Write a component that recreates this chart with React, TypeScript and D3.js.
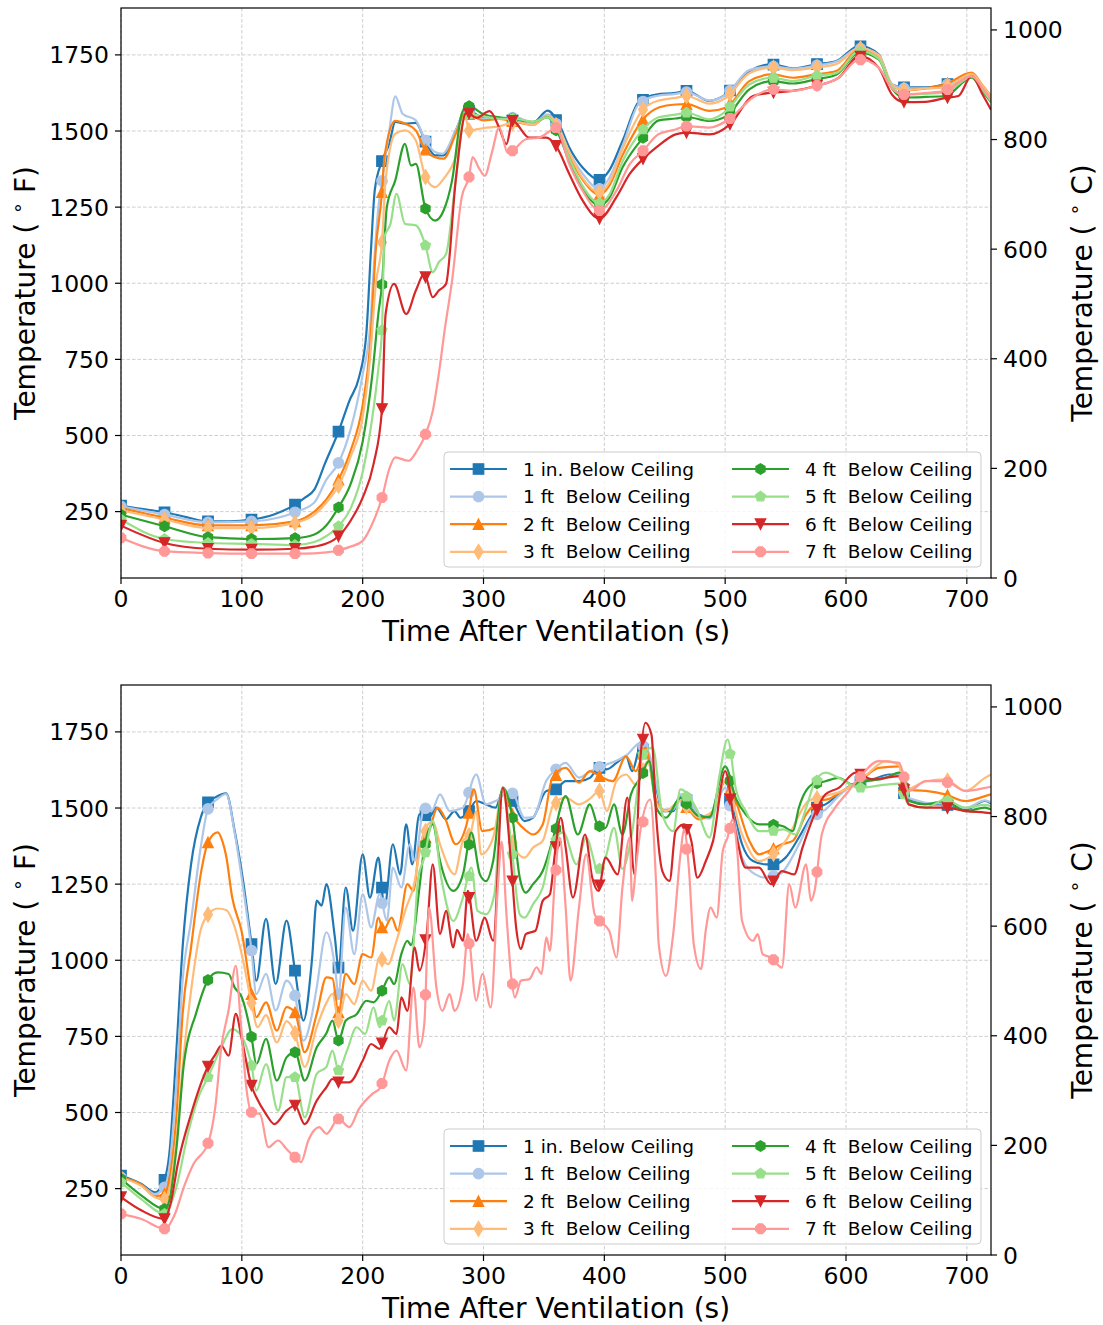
import React from "react";
import * as d3 from "d3";

type Pt = [number, number];

// ---------- labels / styles ----------
const SERIES_LABELS = [
  "1 in. Below Ceiling",
  "1 ft  Below Ceiling",
  "2 ft  Below Ceiling",
  "3 ft  Below Ceiling",
  "4 ft  Below Ceiling",
  "5 ft  Below Ceiling",
  "6 ft  Below Ceiling",
  "7 ft  Below Ceiling",
];
const SERIES_COLORS = ["#1f77b4", "#aec7e8", "#ff7f0e", "#ffbb78", "#2ca02c", "#98df8a", "#d62728", "#ff9896"];
const SERIES_MARKERS = ["s", "o", "^", "d", "h", "p", "v", "8"];
const X_TICKS = [0, 100, 200, 300, 400, 500, 600, 700];
const F_TICKS = [250, 500, 750, 1000, 1250, 1500, 1750];
const C_TICKS = [0, 200, 400, 600, 800, 1000];
const MARKER_TIMES = [0, 36, 72, 108, 144, 180, 216, 252, 288, 324, 360, 396, 432, 468, 504, 540, 576, 612, 648, 684];

// ---------- top panel data (°F) ----------
const top1in: Pt[] = [[0,270],[12,262],[24,255],[36,248],[54,232],[72,218],[90,218],[108,224],[126,240],[144,273],[152,295],[160,322],[169,410],[180,513],[189,614],[197,691],[203,833],[207,1118],[210,1305],[216,1401],[222,1458],[227,1530],[235,1524],[244,1527],[252,1465],[260,1420],[267,1420],[277,1502],[286,1571],[300,1543],[313,1543],[327,1533],[341,1527],[353,1567],[362,1527],[371,1446],[382,1380],[396,1340],[404,1370],[415,1467],[429,1598],[443,1620],[459,1625],[468,1632],[487,1599],[501,1621],[520,1697],[539,1719],[556,1706],[575,1719],[592,1730],[611,1780],[627,1752],[638,1653],[648,1643],[666,1643],[682,1653],[693,1659],[704,1686],[713,1643],[720,1610]];
const top1ft: Pt[] = [[0,267],[36,240],[72,215],[108,218],[144,248],[160,280],[170,355],[180,410],[190,520],[200,700],[206,850],[210,1100],[213,1250],[216,1336],[222,1500],[227,1614],[233,1557],[244,1535],[252,1469],[260,1431],[266,1425],[277,1502],[285,1568],[300,1540],[313,1540],[327,1545],[341,1525],[353,1555],[362,1515],[371,1430],[382,1360],[396,1310],[404,1345],[415,1450],[429,1592],[443,1615],[459,1622],[468,1628],[487,1600],[501,1620],[520,1700],[539,1712],[556,1705],[575,1715],[592,1728],[611,1772],[627,1750],[638,1655],[648,1640],[666,1640],[682,1650],[704,1684],[713,1645],[720,1612]];
const top2ft: Pt[] = [[0,262],[36,230],[72,205],[108,205],[144,218],[160,250],[170,290],[180,355],[190,450],[200,600],[206,789],[211,1118],[216,1299],[218,1414],[227,1533],[235,1524],[244,1502],[251,1442],[260,1414],[267,1409],[277,1491],[285,1560],[300,1535],[313,1540],[327,1530],[341,1520],[353,1550],[362,1505],[371,1420],[382,1340],[396,1290],[404,1320],[415,1420],[432,1538],[445,1577],[459,1587],[468,1588],[487,1566],[501,1577],[520,1664],[539,1686],[556,1675],[575,1686],[592,1697],[611,1768],[627,1745],[638,1650],[648,1634],[666,1640],[682,1653],[704,1692],[713,1650],[720,1615]];
const top3ft: Pt[] = [[0,254],[36,224],[72,196],[108,196],[144,213],[160,240],[170,280],[180,335],[190,430],[200,560],[206,750],[211,1000],[216,1135],[219,1338],[227,1491],[235,1502],[244,1469],[252,1349],[260,1316],[267,1343],[277,1414],[285,1546],[288,1502],[300,1510],[313,1515],[327,1530],[341,1520],[353,1550],[362,1510],[371,1430],[382,1345],[396,1299],[404,1330],[415,1440],[432,1571],[445,1600],[459,1609],[468,1615],[487,1590],[501,1610],[520,1690],[539,1708],[556,1700],[575,1708],[592,1720],[611,1772],[627,1748],[638,1652],[648,1634],[666,1640],[682,1643],[704,1688],[713,1648],[720,1612]];
const top4ft: Pt[] = [[0,240],[36,202],[72,166],[108,160],[144,163],[160,175],[170,205],[180,264],[190,340],[200,480],[208,700],[213,900],[216,996],[220,1250],[227,1338],[235,1458],[240,1387],[244,1392],[252,1245],[260,1206],[267,1239],[274,1338],[282,1557],[287,1584],[300,1555],[313,1545],[327,1540],[341,1530],[353,1545],[362,1490],[371,1400],[382,1310],[396,1255],[404,1280],[415,1380],[432,1478],[445,1535],[459,1541],[468,1546],[487,1533],[501,1549],[520,1637],[539,1664],[556,1656],[575,1670],[592,1685],[611,1758],[627,1735],[638,1640],[648,1610],[666,1612],[682,1615],[704,1675],[713,1630],[720,1595]];
const top5ft: Pt[] = [[0,224],[36,160],[72,147],[108,144],[144,140],[160,150],[170,170],[180,202],[190,260],[200,380],[208,560],[213,720],[216,846],[218,1151],[223,1195],[228,1294],[235,1195],[244,1190],[252,1124],[258,1036],[263,1069],[269,1096],[277,1338],[285,1557],[300,1548],[313,1540],[327,1540],[341,1530],[353,1545],[362,1500],[371,1410],[382,1320],[396,1263],[404,1290],[415,1400],[432,1505],[445,1545],[459,1554],[468,1560],[487,1538],[501,1566],[520,1653],[539,1675],[556,1664],[575,1681],[592,1690],[611,1763],[627,1738],[638,1645],[648,1620],[666,1622],[682,1626],[704,1678],[713,1635],[720,1598]];
const top6ft: Pt[] = [[0,204],[36,147],[72,128],[108,125],[144,128],[160,135],[170,145],[180,169],[190,220],[200,296],[209,406],[216,587],[219,899],[226,998],[236,899],[244,976],[251,1031],[258,954],[263,976],[269,998],[277,1338],[285,1557],[287,1560],[294,1543],[305,1565],[313,1511],[319,1457],[324,1533],[338,1478],[352,1478],[360,1451],[371,1359],[382,1272],[396,1212],[410,1283],[421,1359],[432,1408],[443,1446],[459,1489],[468,1495],[487,1489],[504,1522],[523,1615],[539,1626],[556,1632],[575,1648],[594,1675],[611,1747],[627,1708],[638,1620],[648,1595],[666,1596],[682,1608],[693,1615],[704,1681],[713,1620],[720,1570]];
const top7ft: Pt[] = [[0,164],[36,120],[72,114],[108,112],[144,112],[160,113],[170,116],[180,123],[190,135],[200,154],[208,210],[216,296],[222,390],[227,428],[238,417],[245,450],[252,504],[258,580],[263,702],[268,850],[274,1009],[282,1283],[288,1349],[291,1414],[296,1380],[301,1353],[307,1430],[313,1511],[320,1429],[324,1435],[335,1473],[346,1478],[355,1500],[360,1511],[371,1391],[382,1304],[396,1239],[410,1304],[421,1391],[432,1435],[445,1490],[459,1505],[468,1516],[487,1511],[504,1541],[523,1610],[539,1637],[556,1632],[575,1648],[594,1675],[611,1736],[627,1708],[638,1640],[648,1620],[666,1625],[682,1632],[704,1680],[713,1640],[720,1605]];

// ---------- bottom panel data (°F) ----------
const bot1in: Pt[] = [[0,293],[17,265],[28,238],[36,279],[40,364],[46,714],[51,1043],[58,1316],[66,1469],[72,1519],[78,1535],[87,1548],[94,1426],[101,1261],[108,1053],[112,933],[120,1136],[128,922],[137,1130],[144,966],[151,802],[158,1000],[162,1196],[166,1179],[170,1250],[177,1075],[180,976],[186,1239],[192,1097],[200,1348],[206,1206],[213,1337],[218,1173],[225,1381],[231,1282],[236,1446],[241,1315],[247,1479],[251,1479],[255,1470],[261,1501],[269,1463],[276,1490],[281,1468],[288,1490],[294,1523],[302,1512],[310,1501],[316,1556],[324,1523],[334,1457],[341,1468],[352,1556],[360,1561],[368,1588],[379,1588],[388,1599],[396,1632],[402,1627],[410,1648],[418,1670],[423,1621],[430,1703],[437,1665],[443,1566],[448,1490],[457,1490],[463,1534],[470,1523],[478,1479],[487,1470],[500,1588],[508,1470],[514,1381],[523,1326],[534,1315],[540,1315],[550,1337],[561,1403],[572,1479],[576,1501],[583,1512],[594,1545],[608,1583],[622,1594],[636,1610],[644,1610],[649,1534],[658,1523],[671,1512],[682,1512],[699,1495],[715,1523],[720,1515]];
const bot1ft: Pt[] = [[0,287],[17,262],[28,232],[36,254],[40,320],[46,604],[51,933],[58,1130],[66,1371],[72,1497],[80,1530],[87,1546],[94,1420],[101,1240],[108,1032],[112,889],[120,955],[128,835],[137,933],[144,884],[151,736],[158,820],[162,911],[170,1092],[177,980],[180,889],[186,1173],[193,1020],[200,1217],[207,1108],[214,1217],[220,1130],[225,1304],[232,1239],[239,1381],[243,1326],[251,1501],[257,1490],[264,1545],[272,1490],[283,1501],[294,1610],[302,1512],[310,1523],[323,1556],[334,1468],[341,1470],[352,1590],[360,1627],[368,1648],[379,1600],[388,1620],[396,1635],[410,1655],[418,1672],[430,1714],[437,1680],[443,1580],[448,1495],[457,1495],[463,1545],[470,1530],[478,1475],[487,1465],[500,1566],[508,1450],[514,1337],[525,1282],[534,1271],[545,1282],[561,1380],[572,1470],[583,1495],[594,1540],[608,1580],[622,1590],[636,1605],[644,1608],[649,1540],[658,1525],[671,1515],[682,1515],[699,1500],[715,1525],[720,1518]];
const bot2ft: Pt[] = [[0,287],[17,262],[28,225],[36,233],[40,280],[46,495],[51,824],[58,1043],[66,1283],[72,1387],[80,1420],[84,1390],[87,1343],[92,1207],[100,1092],[108,889],[112,813],[120,862],[129,769],[137,846],[144,829],[152,698],[162,824],[170,944],[175,940],[180,829],[186,955],[193,922],[200,1020],[207,1009],[213,1140],[217,1097],[224,1140],[229,1097],[237,1250],[242,1228],[247,1370],[255,1424],[262,1501],[268,1468],[277,1381],[286,1446],[292,1561],[299,1424],[310,1435],[316,1561],[324,1479],[334,1430],[341,1413],[349,1446],[357,1599],[368,1632],[379,1583],[388,1621],[396,1605],[407,1588],[418,1670],[426,1621],[434,1698],[443,1523],[451,1490],[463,1523],[478,1463],[490,1490],[500,1588],[508,1530],[520,1392],[528,1348],[536,1359],[547,1381],[556,1392],[567,1479],[578,1523],[586,1530],[597,1556],[611,1588],[627,1632],[644,1637],[649,1560],[666,1556],[682,1545],[699,1523],[715,1539],[720,1545]];
const bot3ft: Pt[] = [[0,285],[17,258],[28,222],[36,215],[40,250],[46,420],[51,650],[58,900],[66,1100],[72,1150],[80,1170],[87,1165],[94,1110],[101,1000],[108,860],[113,780],[120,820],[129,730],[137,800],[144,760],[152,650],[162,780],[170,860],[175,890],[180,802],[186,889],[193,856],[200,933],[207,900],[214,1009],[221,987],[228,1064],[236,1173],[242,1239],[250,1413],[258,1457],[264,1381],[276,1282],[283,1392],[289,1413],[294,1490],[298,1348],[308,1403],[316,1556],[323,1392],[334,1337],[341,1370],[349,1392],[358,1512],[368,1534],[379,1512],[388,1530],[396,1556],[402,1490],[410,1588],[418,1610],[426,1577],[436,1654],[443,1515],[451,1490],[463,1523],[478,1470],[490,1490],[500,1590],[514,1413],[528,1326],[538,1342],[550,1392],[569,1523],[583,1540],[597,1556],[617,1610],[633,1654],[644,1640],[649,1560],[666,1588],[682,1594],[699,1556],[715,1599],[720,1610]];
const bot4ft: Pt[] = [[0,282],[17,227],[36,183],[40,211],[46,386],[52,659],[62,824],[72,935],[80,960],[89,955],[94,911],[100,878],[108,749],[112,659],[120,742],[129,605],[137,681],[144,698],[152,605],[162,714],[170,760],[175,802],[180,736],[186,802],[195,823],[203,867],[209,862],[216,900],[222,944],[226,922],[232,1020],[237,1064],[240,1050],[247,1239],[251,1370],[258,1446],[264,1326],[275,1228],[283,1282],[290,1419],[297,1282],[302,1260],[308,1326],[316,1567],[324,1468],[330,1271],[335,1222],[341,1250],[349,1293],[357,1392],[368,1539],[378,1413],[388,1512],[395,1441],[401,1435],[408,1512],[415,1413],[422,1545],[430,1599],[437,1654],[443,1501],[451,1468],[463,1534],[478,1474],[487,1470],[500,1637],[509,1530],[517,1479],[528,1446],[539,1446],[548,1440],[556,1424],[561,1501],[572,1577],[583,1588],[594,1599],[605,1577],[616,1588],[633,1599],[644,1616],[652,1523],[666,1512],[682,1523],[699,1490],[715,1501],[720,1495]];
const bot5ft: Pt[] = [[0,271],[17,215],[36,167],[45,243],[56,441],[64,550],[72,616],[83,714],[92,774],[98,760],[108,654],[112,572],[120,659],[130,506],[137,616],[144,616],[152,484],[162,627],[170,650],[175,703],[180,638],[187,703],[195,780],[202,758],[209,845],[214,780],[222,867],[226,802],[233,987],[239,922],[246,1271],[251,1337],[258,1457],[265,1271],[275,1129],[283,1206],[290,1304],[295,1162],[302,1151],[309,1217],[316,1567],[323,1381],[330,1151],[334,1140],[341,1184],[349,1239],[357,1381],[366,1420],[377,1315],[385,1403],[395,1293],[401,1337],[408,1435],[415,1300],[423,1420],[432,1676],[440,1698],[448,1479],[457,1424],[463,1561],[476,1500],[487,1403],[495,1600],[502,1725],[509,1560],[517,1490],[528,1424],[538,1424],[548,1430],[558,1413],[567,1500],[574,1583],[583,1616],[594,1599],[611,1566],[633,1577],[644,1580],[652,1510],[666,1501],[682,1528],[699,1501],[715,1510],[720,1505]];
const bot6ft: Pt[] = [[0,222],[17,178],[36,150],[41,200],[47,331],[58,495],[72,651],[78,690],[83,720],[89,687],[95,824],[100,740],[108,588],[112,550],[120,495],[127,462],[137,506],[144,523],[152,462],[162,539],[170,583],[175,610],[180,599],[189,599],[200,670],[207,725],[214,709],[222,780],[228,758],[232,878],[237,834],[243,1042],[247,966],[253,1086],[258,1315],[264,1086],[269,1162],[275,1042],[278,1100],[283,1064],[287,1228],[294,1064],[301,1140],[308,1064],[316,1567],[323,1310],[327,1108],[331,1037],[335,1086],[343,1097],[349,1195],[355,1217],[359,1348],[364,1468],[368,1370],[374,1206],[384,1413],[390,1271],[395,1228],[401,1337],[411,1282],[419,1534],[425,1282],[430,1670],[434,1780],[439,1741],[443,1468],[448,1293],[454,1261],[459,1424],[466,1446],[472,1392],[477,1271],[484,1326],[490,1392],[500,1621],[509,1413],[517,1304],[528,1304],[538,1250],[547,1293],[557,1282],[564,1370],[574,1479],[583,1545],[594,1566],[608,1616],[622,1594],[644,1605],[652,1512],[666,1501],[682,1501],[699,1490],[715,1485],[720,1483]];
const bot7ft: Pt[] = [[0,167],[17,150],[36,118],[45,170],[52,255],[60,331],[72,399],[78,517],[83,714],[89,835],[95,982],[99,800],[104,572],[108,501],[115,495],[122,386],[130,408],[137,380],[144,353],[149,337],[155,408],[164,452],[170,430],[180,479],[189,452],[197,512],[208,561],[215,583],[222,670],[228,703],[236,638],[242,911],[247,714],[251,791],[255,1173],[261,911],[266,834],[272,889],[276,834],[283,922],[287,1086],[294,867],[299,955],[306,845],[312,1250],[315,1390],[319,1150],[323,944],[326,878],[331,933],[338,938],[344,977],[348,955],[352,1075],[355,1031],[359,1261],[363,1403],[368,1173],[372,933],[379,1173],[385,1348],[392,1151],[396,1129],[404,1097],[410,1009],[415,1239],[421,1403],[423,1195],[426,1300],[430,1430],[438,1528],[443,1239],[445,1053],[451,949],[457,1086],[463,1348],[466,1430],[470,1300],[474,1053],[480,971],[484,1100],[488,1173],[493,1140],[498,1359],[502,1403],[506,1463],[510,1359],[514,1129],[523,1064],[527,1086],[531,1020],[538,1009],[547,976],[553,1250],[558,1173],[567,1315],[571,1195],[574,1228],[580,1414],[591,1501],[600,1545],[611,1599],[627,1654],[644,1648],[652,1556],[666,1588],[682,1588],[699,1556],[715,1566],[720,1570]];

const TOP_SERIES = [top1in, top1ft, top2ft, top3ft, top4ft, top5ft, top6ft, top7ft];
const BOTTOM_SERIES = [bot1in, bot1ft, bot2ft, bot3ft, bot4ft, bot5ft, bot6ft, bot7ft];

// ---------- layout ----------
const FONT = "DejaVu Sans, Liberation Sans, sans-serif";
const AX_LEFT = 121;
const AX_RIGHT = 991;
const AX_H = 570;
const PANEL_TOPS = [8, 685];
const MS = 10.5;
const LW = 2.2;

function markerPath(kind: string, s: number): string {
  const r = s / 2;
  const poly = (n: number, rot: number, rr: number) => {
    const pts: string[] = [];
    for (let i = 0; i < n; i++) {
      const a = rot + (i * 2 * Math.PI) / n;
      pts.push(`${(rr * Math.sin(a)).toFixed(2)},${(-rr * Math.cos(a)).toFixed(2)}`);
    }
    return "M" + pts.join("L") + "Z";
  };
  switch (kind) {
    case "s":
      return `M${-r},${-r}H${r}V${r}H${-r}Z`;
    case "o":
      return `M${r},0A${r},${r} 0 1,1 ${-r},0A${r},${r} 0 1,1 ${r},0Z`;
    case "^":
      return `M0,${-r}L${r},${r}L${-r},${r}Z`;
    case "v":
      return `M0,${r}L${r},${-r}L${-r},${-r}Z`;
    case "d": {
      const h = s * 0.707;
      const w = h * 0.6;
      return `M0,${-h}L${w},0L0,${h}L${-w},0Z`;
    }
    case "h":
      return poly(6, 0, r);
    case "p":
      return poly(5, 0, r);
    case "8":
      return poly(8, Math.PI / 8, r);
    default:
      return "";
  }
}

function interp(data: Pt[], t: number): number {
  for (let i = 0; i < data.length - 1; i++) {
    const [t0, v0] = data[i];
    const [t1, v1] = data[i + 1];
    if (t >= t0 && t <= t1) return t1 === t0 ? v0 : v0 + ((v1 - v0) * (t - t0)) / (t1 - t0);
  }
  return data[data.length - 1][1];
}

const fToC = (f: number) => ((f - 32) * 5) / 9;

function TempLabel({ x, y, unit }: { x: number; y: number; unit: string }) {
  return (
    <text
      transform={`translate(${x},${y}) rotate(-90)`}
      textAnchor="middle"
      fontFamily={FONT}
      fontSize={28}
      fill="#000"
      style={{ whiteSpace: "pre" }}
    >
      <tspan>Temperature ( </tspan>
      <tspan fontSize={19} dy={-11}>∘</tspan>
      <tspan dy={11}> {unit})</tspan>
    </text>
  );
}

function Panel({ series, top, idx }: { series: Pt[][]; top: number; idx: number }) {
  const x = d3.scaleLinear().domain([0, 720]).range([AX_LEFT, AX_RIGHT]);
  const y = d3.scaleLinear().domain([32, 1904]).range([top + AX_H, top]);
  const yc = d3.scaleLinear().domain([fToC(32), fToC(1904)]).range([top + AX_H, top]);
  const line = d3
    .line<Pt>()
    .x((d) => x(d[0]))
    .y((d) => y(d[1]))
    .curve(d3.curveMonotoneX);
  const bottom = top + AX_H;
  const clipId = `clip-${idx}`;

  // legend geometry
  const legX = 444;
  const legY = top + 444;
  const legW = 537;
  const legH = 115;
  const rowY = (i: number) => legY + 17 + i * 27.6;

  return (
    <g>
      <defs>
        <clipPath id={clipId}>
          <rect x={AX_LEFT} y={top} width={AX_RIGHT - AX_LEFT} height={AX_H} />
        </clipPath>
      </defs>
      {/* grid */}
      <g stroke="#c8c8c8" strokeWidth={0.9} strokeDasharray="3.5,2">
        {X_TICKS.map((t) => (
          <line key={"gx" + t} x1={x(t)} x2={x(t)} y1={top} y2={bottom} />
        ))}
        {F_TICKS.map((t) => (
          <line key={"gy" + t} x1={AX_LEFT} x2={AX_RIGHT} y1={y(t)} y2={y(t)} />
        ))}
      </g>
      {/* series */}
      <g clipPath={`url(#${clipId})`}>
        {series.map((data, i) => (
          <g key={"s" + i}>
            <path d={line(data) || ""} fill="none" stroke={SERIES_COLORS[i]} strokeWidth={LW} strokeLinejoin="round" />
            {MARKER_TIMES.map((t) => (
              <path
                key={"m" + t}
                d={markerPath(SERIES_MARKERS[i], MS)}
                transform={`translate(${x(t)},${y(interp(data, t))})`}
                fill={SERIES_COLORS[i]}
                stroke={SERIES_COLORS[i]}
                strokeWidth={1.2}
              />
            ))}
          </g>
        ))}
      </g>
      {/* spines */}
      <rect x={AX_LEFT} y={top} width={AX_RIGHT - AX_LEFT} height={AX_H} fill="none" stroke="#000" strokeWidth={1.2} />
      {/* x ticks */}
      {X_TICKS.map((t) => (
        <g key={"xt" + t}>
          <line x1={x(t)} x2={x(t)} y1={bottom} y2={bottom + 6} stroke="#000" strokeWidth={1.2} />
          <text x={x(t)} y={bottom + 29} textAnchor="middle" fontFamily={FONT} fontSize={23.5} fill="#000">
            {t}
          </text>
        </g>
      ))}
      {/* left ticks */}
      {F_TICKS.map((t) => (
        <g key={"yt" + t}>
          <line x1={AX_LEFT - 6} x2={AX_LEFT} y1={y(t)} y2={y(t)} stroke="#000" strokeWidth={1.2} />
          <text x={AX_LEFT - 12} y={y(t) + 8.5} textAnchor="end" fontFamily={FONT} fontSize={23.5} fill="#000">
            {t}
          </text>
        </g>
      ))}
      {/* right ticks */}
      {C_TICKS.map((t) => (
        <g key={"yc" + t}>
          <line x1={AX_RIGHT} x2={AX_RIGHT + 6} y1={yc(t)} y2={yc(t)} stroke="#000" strokeWidth={1.2} />
          <text x={AX_RIGHT + 12} y={yc(t) + 8.5} textAnchor="start" fontFamily={FONT} fontSize={23.5} fill="#000">
            {t}
          </text>
        </g>
      ))}
      {/* axis labels */}
      <text x={(AX_LEFT + AX_RIGHT) / 2} y={bottom + 63} textAnchor="middle" fontFamily={FONT} fontSize={28} fill="#000">
        Time After Ventilation (s)
      </text>
      <TempLabel x={35} y={top + AX_H / 2} unit="F" />
      <TempLabel x={1092} y={top + AX_H / 2} unit="C" />
      {/* legend */}
      <rect x={legX} y={legY} width={legW} height={legH} rx={4} ry={4} fill="#fff" fillOpacity={0.8} stroke="#cccccc" strokeWidth={1} />
      {SERIES_LABELS.map((lab, i) => {
        const col = Math.floor(i / 4);
        const row = i % 4;
        const hx0 = col === 0 ? 450 : 732;
        const hx1 = hx0 + 57;
        const tx = col === 0 ? 523 : 805;
        const ry = rowY(row);
        return (
          <g key={"lg" + i}>
            <line x1={hx0} x2={hx1} y1={ry} y2={ry} stroke={SERIES_COLORS[i]} strokeWidth={LW} />
            <path
              d={markerPath(SERIES_MARKERS[i], MS)}
              transform={`translate(${(hx0 + hx1) / 2},${ry})`}
              fill={SERIES_COLORS[i]}
              stroke={SERIES_COLORS[i]}
              strokeWidth={1.2}
            />
            <text x={tx} y={ry + 6.5} fontFamily={FONT} fontSize={18.5} fill="#000" style={{ whiteSpace: "pre" }}>
              {lab}
            </text>
          </g>
        );
      })}
    </g>
  );
}

export default function App() {
  return (
    <svg
      width={1103}
      height={1325}
      viewBox="0 0 1103 1325"
      style={{ position: "absolute", left: 0, top: 0, background: "#fff" }}
    >
      <rect x={0} y={0} width={1103} height={1325} fill="#fff" />
      <Panel series={TOP_SERIES} top={PANEL_TOPS[0]} idx={0} />
      <Panel series={BOTTOM_SERIES} top={PANEL_TOPS[1]} idx={1} />
    </svg>
  );
}
